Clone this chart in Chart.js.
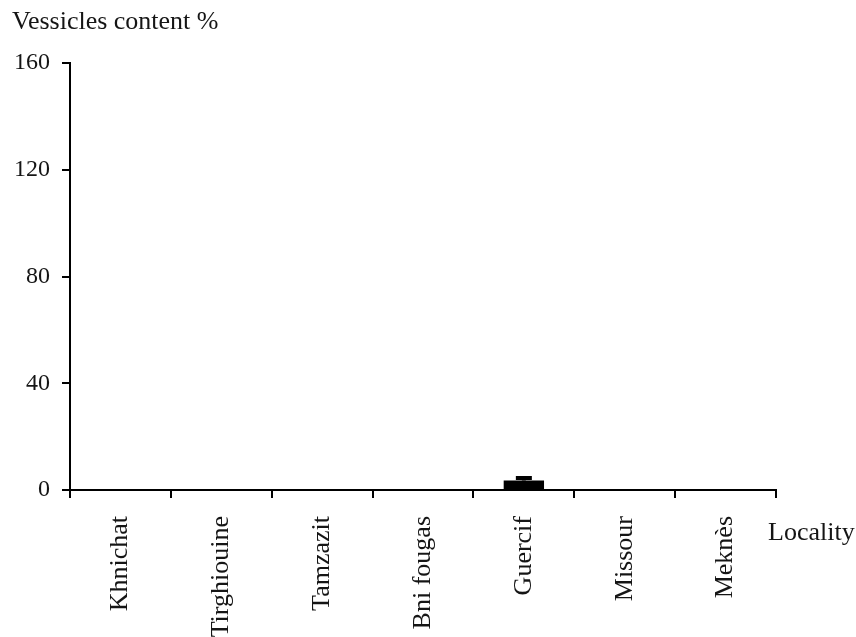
<!DOCTYPE html>
<html>
<head>
<meta charset="utf-8">
<script src="https://cdn.jsdelivr.net/npm/chart.js"></script>
<style>
  html, body { margin: 0; padding: 0; background: #fff; }
  #wrap { width: 856px; height: 637px; }
</style>
</head>
<body>
<div id="wrap"><canvas id="vesChart" width="856" height="637"></canvas></div>
<script>
// Vesicle content per locality
const localities = ['Khnichat', 'Tirghiouine', 'Tamzazit', 'Bni fougas', 'Guercif', 'Missour', 'Meknès'];
const vesicles = [0, 0, 0, 0, 3.6, 0, 0];
const vesiclesErr = [0, 0, 0, 0, 0.9, 0, 0];
const yTicks = [0, 40, 80, 120, 160];

const serif = '"Liberation Serif", "DejaVu Serif", serif';
const ink = '#151515';

// axis titles sit outside the scales, like in the original figure
const axisTitles = {
    id: 'axisTitles',
    afterDraw(chart) {
        const c = chart.ctx;
        c.save();
        c.fillStyle = ink;
        c.font = '26px ' + serif;
        c.textBaseline = 'middle';
        c.textAlign = 'left';
        c.fillText('Vessicles content %', 12, 22);
        c.fillText('Locality', chart.chartArea.right - 8, 533);
        c.restore();
    }
};

// small error bars on top of the columns
const errorBars = {
    id: 'errorBars',
    afterDatasetsDraw(chart) {
        const c = chart.ctx;
        const meta = chart.getDatasetMeta(0);
        const y = chart.scales.y;
        c.save();
        c.strokeStyle = '#000';
        c.lineWidth = 4;
        meta.data.forEach((bar, i) => {
            const err = vesiclesErr[i];
            if (!err) return;
            const top = y.getPixelForValue(vesicles[i] + err);
            c.beginPath();
            c.moveTo(bar.x, bar.y);
            c.lineTo(bar.x, top);
            c.moveTo(bar.x - 8, top);
            c.lineTo(bar.x + 8, top);
            c.stroke();
        });
        c.restore();
    }
};

new Chart(document.getElementById('vesChart').getContext('2d'), {
    type: 'bar',
    data: {
        labels: localities,
        datasets: [{
            data: vesicles,
            backgroundColor: '#000',
            barPercentage: 0.4,
            categoryPercentage: 1
        }]
    },
    options: {
        responsive: false,
        animation: false,
        layout: { padding: { top: 63, right: 80, left: 0, bottom: 0 } },
        plugins: { legend: { display: false }, tooltip: { enabled: false } },
        scales: {
            x: {
                grid: { drawOnChartArea: false, drawTicks: true, tickLength: 8, color: '#000', lineWidth: 2 },
                border: { color: '#000', width: 2 },
                ticks: {
                    minRotation: 90, maxRotation: 90, padding: 18,
                    color: ink, font: { family: serif, size: 26 }
                },
                afterFit(scale) { scale.height = 147; }
            },
            y: {
                min: 0, max: 160,
                afterBuildTicks(scale) { scale.ticks = yTicks.map(v => ({ value: v })); },
                grid: { drawOnChartArea: false, drawTicks: true, tickLength: 8, color: '#000', lineWidth: 2 },
                border: { color: '#000', width: 2 },
                ticks: { padding: 12, color: ink, font: { family: serif, size: 24 } },
                afterFit(scale) { scale.width = 70; }
            }
        }
    },
    plugins: [axisTitles, errorBars]
});
</script>
</body>
</html>
